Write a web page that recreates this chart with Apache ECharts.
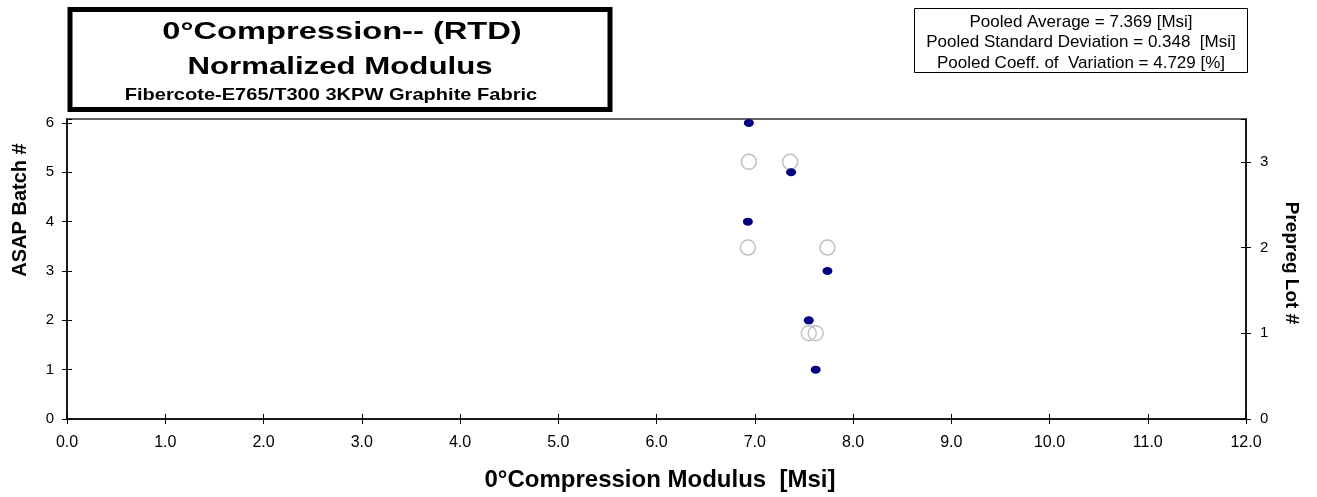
<!DOCTYPE html>
<html>
<head>
<meta charset="utf-8">
<script src="https://cdn.jsdelivr.net/npm/echarts@6/dist/echarts.min.js"></script>
<style>
  html, body { margin: 0; padding: 0; background: #fff; }
  #chart { width: 1317px; height: 497px; }
</style>
</head>
<body>
<div id="chart"></div>
<script>
// Modulus per ASAP batch (left axis) and per prepreg lot (right axis)
const batchModulus = [7.62, 7.55, 7.74, 6.93, 7.37, 6.94];
const batchNumber  = [1, 2, 3, 4, 5, 6];
const lotModulus   = [7.55, 7.62, 6.93, 7.74, 6.94, 7.36];
const lotNumber    = [1, 1, 2, 2, 3, 3];

const titleLines = ['0°Compression-- (RTD)', 'Normalized Modulus', 'Fibercote-E765/T300 3KPW Graphite Fabric'];
const statLines = [
  'Pooled Average = 7.369 [Msi]',
  'Pooled Standard Deviation = 0.348  [Msi]',
  'Pooled Coeff. of  Variation = 4.729 [%]'
];
const xAxisTitle = '0°Compression Modulus  [Msi]';
const leftAxisTitle = 'ASAP Batch #';
const rightAxisTitle = 'Prepreg Lot #';

const FONT = '"Liberation Sans", Arial, sans-serif';
const chart = echarts.init(document.getElementById('chart'), null, { renderer: 'canvas' });

const baseLine = { show: true, lineStyle: { color: '#000', width: 1.5 } };
const xLabel = { color: '#000', fontFamily: FONT, fontSize: 16 };
const yLabel = { color: '#000', fontFamily: FONT, fontSize: 15 };

function innerTicks(extra) {
  return Object.assign({
    type: 'value',
    axisLine: { show: false },
    axisTick: { show: true, inside: true, length: 5, lineStyle: { color: '#000' } },
    axisLabel: { show: false }, splitLine: { show: false }
  }, extra);
}

chart.setOption({
  animation: false,
  backgroundColor: '#fff',
  grid: {
    left: 67, right: 71, top: 119, bottom: 78,
    outerBoundsMode: 'none', containLabel: false,
    show: true, borderColor: '#333', borderWidth: 1.5, backgroundColor: 'transparent'
  },
  xAxis: [
    {
      type: 'value', min: 0, max: 12, interval: 1, position: 'bottom',
      axisLine: baseLine,
      axisTick: { show: true, inside: false, length: 5, lineStyle: { color: '#000' } },
      axisLabel: Object.assign({ margin: 16, formatter: v => v.toFixed(1) }, xLabel),
      splitLine: { show: false }
    },
    innerTicks({ min: 0, max: 12, interval: 1, position: 'bottom' })
  ],
  yAxis: [
    {
      type: 'value', min: 0, max: 6.08, interval: 1, position: 'left',
      axisLine: baseLine,
      axisTick: { show: true, inside: false, length: 5, lineStyle: { color: '#000' } },
      axisLabel: Object.assign({ margin: 13, showMaxLabel: false }, yLabel),
      splitLine: { show: false }
    },
    innerTicks({ min: 0, max: 6.08, interval: 1, position: 'left' }),
    {
      type: 'value', min: 0, max: 3.5, interval: 1, position: 'right',
      axisLine: baseLine,
      axisTick: { show: true, inside: false, length: 5, lineStyle: { color: '#000' } },
      axisLabel: Object.assign({ margin: 14, showMaxLabel: false }, yLabel),
      splitLine: { show: false }
    },
    innerTicks({ min: 0, max: 3.5, interval: 1, position: 'right' })
  ],
  series: [
    {
      name: 'Prepreg Lot', type: 'scatter', xAxisIndex: 0, yAxisIndex: 2,
      data: lotModulus.map((v, i) => [v, lotNumber[i]]),
      symbol: 'circle', symbolSize: 15,
      itemStyle: { color: 'rgba(255,255,255,0)', borderColor: '#c0c0c0', borderWidth: 1.5, opacity: 1 },
      z: 3
    },
    {
      name: 'ASAP Batch', type: 'scatter', xAxisIndex: 0, yAxisIndex: 0,
      data: batchModulus.map((v, i) => [v, batchNumber[i]]),
      symbol: 'circle', symbolSize: [10, 8],
      itemStyle: { color: '#000080', opacity: 1 },
      z: 4
    }
  ],
  graphic: [
    // chart title box
    {
      type: 'rect', x: 70, y: 9.5, z: 10,
      shape: { width: 540, height: 100 },
      style: { fill: '#fff', stroke: '#000', lineWidth: 5 }
    },
    {
      type: 'text', x: 342, y: 32, scaleX: 1.36, z: 11,
      style: { text: titleLines[0], fill: '#000', font: 'bold 24px ' + FONT, align: 'center', verticalAlign: 'middle' }
    },
    {
      type: 'text', x: 340, y: 67, scaleX: 1.3, z: 11,
      style: { text: titleLines[1], fill: '#000', font: 'bold 24px ' + FONT, align: 'center', verticalAlign: 'middle' }
    },
    {
      type: 'text', x: 331, y: 95, scaleX: 1.18, z: 11,
      style: { text: titleLines[2], fill: '#000', font: 'bold 17px ' + FONT, align: 'center', verticalAlign: 'middle' }
    },
    // pooled statistics box
    {
      type: 'rect', x: 914.5, y: 8.5, z: 10,
      shape: { width: 333, height: 64 },
      style: { fill: '#fff', stroke: '#000', lineWidth: 1 }
    },
    {
      type: 'text', x: 1081, y: 22, z: 11,
      style: { text: statLines[0], fill: '#000', font: '17px ' + FONT, align: 'center', verticalAlign: 'middle' }
    },
    {
      type: 'text', x: 1081, y: 42.5, z: 11,
      style: { text: statLines[1], fill: '#000', font: '17px ' + FONT, align: 'center', verticalAlign: 'middle' }
    },
    {
      type: 'text', x: 1081, y: 63, z: 11,
      style: { text: statLines[2], fill: '#000', font: '17px ' + FONT, align: 'center', verticalAlign: 'middle' }
    },
    // axis titles
    {
      type: 'text', x: 660, y: 480, z: 11,
      style: { text: xAxisTitle, fill: '#000', font: 'bold 24px ' + FONT, align: 'center', verticalAlign: 'middle' }
    },
    {
      type: 'text', x: 20, y: 210, rotation: Math.PI / 2, z: 11,
      style: { text: leftAxisTitle, fill: '#000', font: 'bold 20px ' + FONT, align: 'center', verticalAlign: 'middle' }
    },
    {
      type: 'text', x: 1291, y: 263, rotation: -Math.PI / 2, z: 11,
      style: { text: rightAxisTitle, fill: '#000', font: 'bold 19px ' + FONT, align: 'center', verticalAlign: 'middle' }
    }
  ]
});
</script>
</body>
</html>
